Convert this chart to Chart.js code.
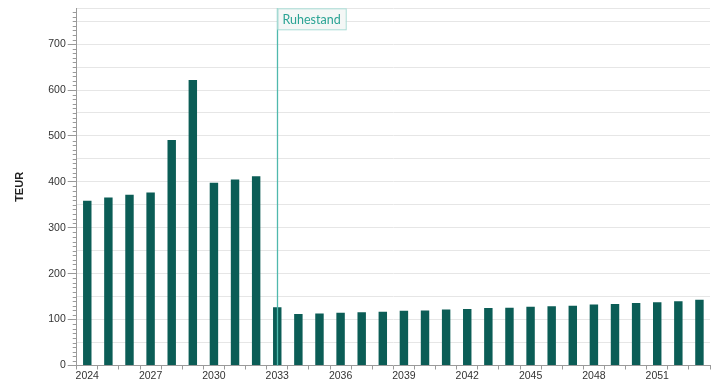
<!DOCTYPE html>
<html>
<head>
<meta charset="utf-8">
<script src="https://cdn.jsdelivr.net/npm/chart.js@4/dist/chart.umd.min.js"></script>
<style>
html,body{margin:0;padding:0;background:#fff;}
#wrap{width:713px;height:382px;position:relative;}
</style>
</head>
<body>
<div id="wrap"><canvas id="c" width="713" height="382"></canvas></div>
<script>
const years = [];
for (let y = 2024; y <= 2053; y++) years.push(String(y));
const values = [359, 366, 372, 377, 491, 622, 398, 405, 412, 127,
                112, 113, 115, 116, 117, 119, 120, 122, 123, 125,
                126, 128, 129, 130, 133, 134, 136, 138, 140, 143];
const shownYearLabels = ['2024','2027','2030','2033','2036','2039','2042','2045','2048','2051'];
const markerYear = '2033';
const markerText = 'Ruhestand';
const yTitle = 'TEUR';

const barColor = '#0b5d56';
const lineColor = '#4fb9ad';

const extras = {
  id: 'extras',
  afterDraw(chart) {
    const ctx = chart.ctx;
    const y = chart.scales.y, x = chart.scales.x;
    const area = chart.chartArea;
    ctx.save();
    ctx.strokeStyle = '#9a9a9a';
    ctx.lineWidth = 1;
    for (let v = 0; v <= y.max; v += 10) {
      if (v % 100 === 0) continue;
      const py = Math.round(y.getPixelForValue(v)) + 0.5;
      ctx.beginPath();
      ctx.moveTo(area.left - 4, py);
      ctx.lineTo(area.left, py);
      ctx.stroke();
    }
    const px = Math.round(x.getPixelForValue(years.indexOf(markerYear))) + 0.5;
    ctx.strokeStyle = lineColor;
    ctx.lineWidth = 1.3;
    ctx.beginPath();
    ctx.moveTo(px, area.top);
    ctx.lineTo(px, area.bottom);
    ctx.stroke();
    ctx.font = '12.5px Lato, "Open Sans", sans-serif';
    const tw = ctx.measureText(markerText).width;
    const bx = px, by = area.top, bw = tw + 10, bh = 21;
    ctx.fillStyle = '#f4f7f6';
    ctx.fillRect(bx, by, bw, bh);
    ctx.strokeStyle = '#a9dcd5';
    ctx.lineWidth = 1;
    ctx.strokeRect(bx + 0.5, by + 0.5, bw, bh);
    ctx.fillStyle = '#2aa394';
    ctx.textBaseline = 'middle';
    ctx.fillText(markerText, bx + 5, by + bh / 2 + 1);
    ctx.restore();
  }
};

new Chart(document.getElementById('c'), {
  type: 'bar',
  data: {
    labels: years,
    datasets: [{
      data: values,
      backgroundColor: barColor,
      borderWidth: 0,
      barPercentage: 0.8,
      categoryPercentage: 0.5
    }]
  },
  options: {
    responsive: false,
    animation: false,
    devicePixelRatio: 1,
    layout: { padding: { top: 7, right: 3, left: 13, bottom: 0 } },
    plugins: { legend: { display: false }, tooltip: { enabled: false } },
    scales: {
      x: {
        offset: true,
        grid: { offset: true, drawOnChartArea: false, drawTicks: true, tickLength: 4, color: '#9a9a9a' },
        border: { color: '#9a9a9a' },
        ticks: {
          autoSkip: false, maxRotation: 0, padding: 1,
          color: '#333', font: { family: '"Liberation Sans", Arial, sans-serif', size: 10.5, lineHeight: 1 },
          callback: function(v) { const l = years[v]; return shownYearLabels.includes(l) ? l : ''; }
        }
      },
      y: {
        min: 0, max: 778,
        grid: {
          color: ctx => (ctx.tick && ctx.tick.value > 0) ? '#e6e6e6' : 'rgba(0,0,0,0)',
          tickColor: ctx => (ctx.tick && ctx.tick.value % 100 === 0) ? '#9a9a9a' : 'rgba(0,0,0,0)',
          tickLength: 9
        },
        border: { color: '#9a9a9a' },
        title: { display: true, text: yTitle, color: '#222', font: { family: '"Liberation Sans", Arial, sans-serif', size: 11, weight: 'bold' }, padding: { top: 0, bottom: 20 } },
        ticks: {
          stepSize: 50, maxTicksLimit: 30, autoSkip: false, padding: 2,
          color: '#333', font: { family: '"Liberation Sans", Arial, sans-serif', size: 10.5 },
          callback: v => (v % 100 === 0 ? String(v) : '')
        }
      }
    }
  },
  plugins: [extras]
});
</script>
</body>
</html>
